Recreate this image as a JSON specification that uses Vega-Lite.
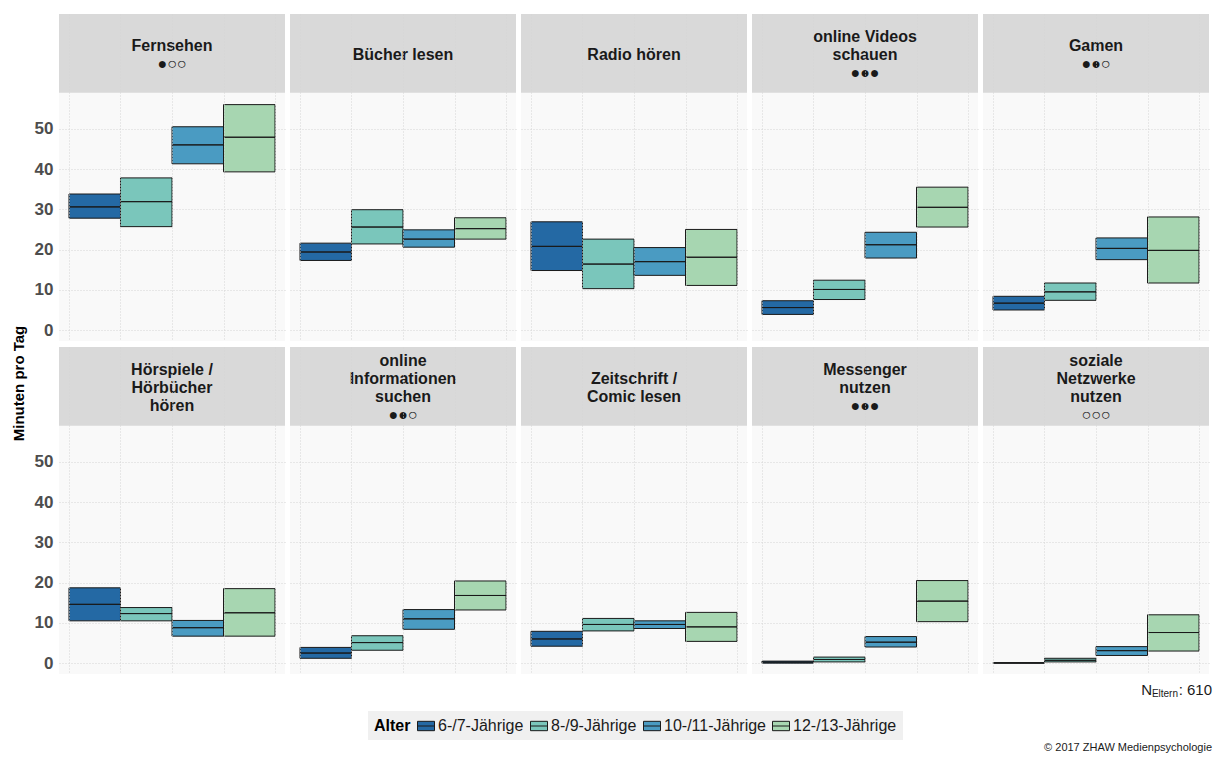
{
  "$schema": "https://vega.github.io/schema/vega-lite/v6.json",
  "padding": {"left": 12, "top": 14, "right": 4, "bottom": 0},
  "title": {"text": "Minuten pro Tag", "orient": "left", "anchor": "middle", "fontSize": 15, "fontWeight": "bold", "color": "#000000", "offset": 7},
  "datasets": {
    "nutzung": [
      {"Aktivitaet": "Fernsehen", "Bewertung": "●○○", "Alter": "6-/7-Jährige", "CI_unten": 27.8, "Mittelwert": 30.6, "CI_oben": 33.8},
      {"Aktivitaet": "Fernsehen", "Bewertung": "●○○", "Alter": "8-/9-Jährige", "CI_unten": 25.7, "Mittelwert": 31.9, "CI_oben": 37.8},
      {"Aktivitaet": "Fernsehen", "Bewertung": "●○○", "Alter": "10-/11-Jährige", "CI_unten": 41.3, "Mittelwert": 46.0, "CI_oben": 50.5},
      {"Aktivitaet": "Fernsehen", "Bewertung": "●○○", "Alter": "12-/13-Jährige", "CI_unten": 39.3, "Mittelwert": 47.9, "CI_oben": 56.0},
      {"Aktivitaet": "Bücher lesen", "Bewertung": "", "Alter": "6-/7-Jährige", "CI_unten": 17.3, "Mittelwert": 19.4, "CI_oben": 21.6},
      {"Aktivitaet": "Bücher lesen", "Bewertung": "", "Alter": "8-/9-Jährige", "CI_unten": 21.4, "Mittelwert": 25.6, "CI_oben": 29.9},
      {"Aktivitaet": "Bücher lesen", "Bewertung": "", "Alter": "10-/11-Jährige", "CI_unten": 20.6, "Mittelwert": 22.6, "CI_oben": 24.9},
      {"Aktivitaet": "Bücher lesen", "Bewertung": "", "Alter": "12-/13-Jährige", "CI_unten": 22.6, "Mittelwert": 25.2, "CI_oben": 27.9},
      {"Aktivitaet": "Radio hören", "Bewertung": "", "Alter": "6-/7-Jährige", "CI_unten": 14.8, "Mittelwert": 20.8, "CI_oben": 26.9},
      {"Aktivitaet": "Radio hören", "Bewertung": "", "Alter": "8-/9-Jährige", "CI_unten": 10.3, "Mittelwert": 16.4, "CI_oben": 22.6},
      {"Aktivitaet": "Radio hören", "Bewertung": "", "Alter": "10-/11-Jährige", "CI_unten": 13.6, "Mittelwert": 17.0, "CI_oben": 20.5},
      {"Aktivitaet": "Radio hören", "Bewertung": "", "Alter": "12-/13-Jährige", "CI_unten": 11.1, "Mittelwert": 18.1, "CI_oben": 25.0},
      {"Aktivitaet": "online Videos\nschauen", "Bewertung": "●●●", "Alter": "6-/7-Jährige", "CI_unten": 3.9, "Mittelwert": 5.6, "CI_oben": 7.3},
      {"Aktivitaet": "online Videos\nschauen", "Bewertung": "●●●", "Alter": "8-/9-Jährige", "CI_unten": 7.6, "Mittelwert": 10.1, "CI_oben": 12.4},
      {"Aktivitaet": "online Videos\nschauen", "Bewertung": "●●●", "Alter": "10-/11-Jährige", "CI_unten": 17.9, "Mittelwert": 21.2, "CI_oben": 24.3},
      {"Aktivitaet": "online Videos\nschauen", "Bewertung": "●●●", "Alter": "12-/13-Jährige", "CI_unten": 25.6, "Mittelwert": 30.5, "CI_oben": 35.5},
      {"Aktivitaet": "Gamen", "Bewertung": "●●○", "Alter": "6-/7-Jährige", "CI_unten": 5.0, "Mittelwert": 6.7, "CI_oben": 8.4},
      {"Aktivitaet": "Gamen", "Bewertung": "●●○", "Alter": "8-/9-Jährige", "CI_unten": 7.4, "Mittelwert": 9.5, "CI_oben": 11.7},
      {"Aktivitaet": "Gamen", "Bewertung": "●●○", "Alter": "10-/11-Jährige", "CI_unten": 17.5, "Mittelwert": 20.3, "CI_oben": 22.9},
      {"Aktivitaet": "Gamen", "Bewertung": "●●○", "Alter": "12-/13-Jährige", "CI_unten": 11.7, "Mittelwert": 19.8, "CI_oben": 28.1},
      {"Aktivitaet": "Hörspiele /\nHörbücher\nhören", "Bewertung": "", "Alter": "6-/7-Jährige", "CI_unten": 10.5, "Mittelwert": 14.6, "CI_oben": 18.7},
      {"Aktivitaet": "Hörspiele /\nHörbücher\nhören", "Bewertung": "", "Alter": "8-/9-Jährige", "CI_unten": 10.5, "Mittelwert": 12.3, "CI_oben": 13.8},
      {"Aktivitaet": "Hörspiele /\nHörbücher\nhören", "Bewertung": "", "Alter": "10-/11-Jährige", "CI_unten": 6.7, "Mittelwert": 8.8, "CI_oben": 10.6},
      {"Aktivitaet": "Hörspiele /\nHörbücher\nhören", "Bewertung": "", "Alter": "12-/13-Jährige", "CI_unten": 6.7, "Mittelwert": 12.5, "CI_oben": 18.5},
      {"Aktivitaet": "online\nInformationen\nsuchen", "Bewertung": "●●○", "Alter": "6-/7-Jährige", "CI_unten": 1.2, "Mittelwert": 2.5, "CI_oben": 3.9},
      {"Aktivitaet": "online\nInformationen\nsuchen", "Bewertung": "●●○", "Alter": "8-/9-Jährige", "CI_unten": 3.2, "Mittelwert": 5.1, "CI_oben": 6.8},
      {"Aktivitaet": "online\nInformationen\nsuchen", "Bewertung": "●●○", "Alter": "10-/11-Jährige", "CI_unten": 8.4, "Mittelwert": 11.0, "CI_oben": 13.3},
      {"Aktivitaet": "online\nInformationen\nsuchen", "Bewertung": "●●○", "Alter": "12-/13-Jährige", "CI_unten": 13.2, "Mittelwert": 16.8, "CI_oben": 20.4},
      {"Aktivitaet": "Zeitschrift /\nComic lesen", "Bewertung": "", "Alter": "6-/7-Jährige", "CI_unten": 4.2, "Mittelwert": 6.0, "CI_oben": 7.9},
      {"Aktivitaet": "Zeitschrift /\nComic lesen", "Bewertung": "", "Alter": "8-/9-Jährige", "CI_unten": 8.0, "Mittelwert": 9.6, "CI_oben": 11.1},
      {"Aktivitaet": "Zeitschrift /\nComic lesen", "Bewertung": "", "Alter": "10-/11-Jährige", "CI_unten": 8.6, "Mittelwert": 9.6, "CI_oben": 10.5},
      {"Aktivitaet": "Zeitschrift /\nComic lesen", "Bewertung": "", "Alter": "12-/13-Jährige", "CI_unten": 5.4, "Mittelwert": 9.0, "CI_oben": 12.6},
      {"Aktivitaet": "Messenger\nnutzen", "Bewertung": "●●●", "Alter": "6-/7-Jährige", "CI_unten": 0.0, "Mittelwert": 0.25, "CI_oben": 0.5},
      {"Aktivitaet": "Messenger\nnutzen", "Bewertung": "●●●", "Alter": "8-/9-Jährige", "CI_unten": 0.3, "Mittelwert": 0.9, "CI_oben": 1.5},
      {"Aktivitaet": "Messenger\nnutzen", "Bewertung": "●●●", "Alter": "10-/11-Jährige", "CI_unten": 4.0, "Mittelwert": 5.2, "CI_oben": 6.6},
      {"Aktivitaet": "Messenger\nnutzen", "Bewertung": "●●●", "Alter": "12-/13-Jährige", "CI_unten": 10.3, "Mittelwert": 15.4, "CI_oben": 20.5},
      {"Aktivitaet": "soziale\nNetzwerke\nnutzen", "Bewertung": "○○○", "Alter": "6-/7-Jährige", "CI_unten": 0.0, "Mittelwert": 0.05, "CI_oben": 0.1},
      {"Aktivitaet": "soziale\nNetzwerke\nnutzen", "Bewertung": "○○○", "Alter": "8-/9-Jährige", "CI_unten": 0.3, "Mittelwert": 0.7, "CI_oben": 1.2},
      {"Aktivitaet": "soziale\nNetzwerke\nnutzen", "Bewertung": "○○○", "Alter": "10-/11-Jährige", "CI_unten": 1.9, "Mittelwert": 3.1, "CI_oben": 4.1},
      {"Aktivitaet": "soziale\nNetzwerke\nnutzen", "Bewertung": "○○○", "Alter": "12-/13-Jährige", "CI_unten": 3.0, "Mittelwert": 7.6, "CI_oben": 12.0}
    ],
    "stichprobe": [{"Gruppe": "Eltern", "N": 610}]
  },
  "data": {"name": "nutzung"},
  "spacing": 4,
  "resolve": {"legend": {"color": "independent"}},
  "vconcat": [
    {
      "facet": {
        "field": "Aktivitaet", "type": "nominal",
        "sort": ["Fernsehen", "Bücher lesen", "Radio hören", "online Videos\nschauen", "Gamen", "Hörspiele /\nHörbücher\nhören", "online\nInformationen\nsuchen", "Zeitschrift /\nComic lesen", "Messenger\nnutzen", "soziale\nNetzwerke\nnutzen"],
        "header": {"title": null, "labels": false, "labelPadding": 0, "labelFontSize": 0, "labelExpr": "''"}
      },
      "columns": 5,
      "spacing": {"row": 6, "column": 5},
      "spec": {
        "width": 226,
        "height": 327,
        "layer": [
          {
            "mark": {"type": "rect", "stroke": "#1a1a1a", "strokeWidth": 1},
            "encoding": {
              "x": {"field": "Alter", "type": "nominal", "sort": ["6-/7-Jährige", "8-/9-Jährige", "10-/11-Jährige", "12-/13-Jährige"],
                "scale": {"paddingInner": 0, "paddingOuter": 0.194},
                "axis": {"title": null, "labels": false, "ticks": false, "domain": false, "grid": true, "tickBand": "extent", "gridDash": [1, 2], "gridColor": "#d4d4d4"}},
              "y": {"field": "CI_unten", "type": "quantitative",
                "scale": {"domain": [-2.7, 78.5], "nice": false, "zero": false},
                "axis": {"title": null, "values": [0, 10, 20, 30, 40, 50], "ticks": false, "domain": false, "grid": true, "gridDash": [1, 2], "gridColor": "#d4d4d4", "labelFontSize": 17, "labelFontWeight": "bold", "labelColor": "#4d4d4d", "labelPadding": 6}},
              "y2": {"field": "CI_oben"},
              "color": {"field": "Alter", "type": "nominal", "sort": ["6-/7-Jährige", "8-/9-Jährige", "10-/11-Jährige", "12-/13-Jährige"],
                "scale": {"domain": ["6-/7-Jährige", "8-/9-Jährige", "10-/11-Jährige", "12-/13-Jährige"], "range": ["#2469a4", "#7ac6bb", "#4a9bc2", "#a7d6b1"]},
                "legend": null}
            }
          },
          {
            "mark": {"type": "rect", "fill": "transparent", "stroke": "#1a1a1a", "strokeWidth": 1},
            "encoding": {
              "x": {"field": "Alter", "type": "nominal", "sort": ["6-/7-Jährige", "8-/9-Jährige", "10-/11-Jährige", "12-/13-Jährige"]},
              "y": {"field": "Mittelwert", "type": "quantitative"},
              "y2": {"field": "Mittelwert"}
            }
          },
          {
            "transform": [{"filter": "datum.Alter == '6-/7-Jährige'"}],
            "mark": {"type": "rect", "color": "#d9d9d9"},
            "encoding": {
              "y": {"datum": 58.95, "type": "quantitative"},
              "y2": {"datum": 78.5}
            }
          },
          {
            "transform": [{"filter": "datum.Alter == '6-/7-Jährige'"}],
            "mark": {"type": "text", "lineBreak": "\n", "lineHeight": 18, "fontSize": 16, "fontWeight": "bold", "color": "#1a1a1a", "baseline": "middle", "align": "center",
              "text": {"expr": "datum.Aktivitaet + (datum.Bewertung ? '\\n' + datum.Bewertung : '')"},
              "dy": {"expr": "-9 * (length(split(datum.Aktivitaet, '\\n')) - (datum.Bewertung ? 0 : 1)) + 2"}},
            "encoding": {
              "y": {"datum": 68.7, "type": "quantitative"}
            }
          }
        ]
      }
    },
    {
      "width": 1153,
      "height": 24,
      "view": {"fill": null, "stroke": null},
      "title": {"text": "© 2017 ZHAW Medienpsychologie", "orient": "bottom", "anchor": "end", "fontSize": 11, "fontWeight": "normal", "color": "#1a1a1a", "offset": 2},
      "layer": [
        {
          "mark": {"type": "rect", "opacity": 0},
          "encoding": {
            "color": {"field": "Alter", "type": "nominal", "sort": ["6-/7-Jährige", "8-/9-Jährige", "10-/11-Jährige", "12-/13-Jährige"],
              "legend": {"orient": "bottom", "direction": "horizontal", "title": "Alter", "titleOrient": "left", "titleFontSize": 16, "titleFontWeight": "bold", "titleColor": "#000000", "titlePadding": 6,
                "labelFontSize": 16, "labelColor": "#1a1a1a", "labelOffset": 3, "columnPadding": 4, "fillColor": "#f0f0f0", "padding": 6, "offset": 9,
                "symbolType": "M-1,-0.55H1V0.55H-1Z M-1,0H1", "symbolSize": 289, "symbolStrokeColor": "#1a1a1a", "symbolStrokeWidth": 1, "symbolOpacity": 1,
                "encode": {"symbols": {"update": {"opacity": {"value": 1}}}}}}
          }
        },
        {
          "data": {"name": "stichprobe"},
          "mark": {"type": "text", "align": "right", "baseline": "middle", "fontSize": 15, "color": "#1a1a1a", "text": {"expr": "': ' + datum.N"}},
          "encoding": {"x": {"datum": 1, "type": "quantitative", "scale": {"domain": [0, 1], "nice": false}, "axis": null}}
        },
        {
          "data": {"name": "stichprobe"},
          "mark": {"type": "text", "align": "right", "baseline": "middle", "fontSize": 10, "color": "#1a1a1a", "dx": -34, "dy": 4},
          "encoding": {"x": {"datum": 1, "type": "quantitative"}, "text": {"field": "Gruppe"}}
        },
        {
          "data": {"name": "stichprobe"},
          "mark": {"type": "text", "align": "right", "baseline": "middle", "fontSize": 15, "color": "#1a1a1a", "dx": -60, "text": "N"},
          "encoding": {"x": {"datum": 1, "type": "quantitative"}}
        }
      ]
    }
  ],
  "config": {
    "font": "Liberation Sans",
    "view": {"fill": "#f9f9f9", "stroke": null},
    "header": {"labels": false, "title": null},
    "headerFacet": {"labels": false, "title": null},
    "legend": {"layout": {"bottom": {"anchor": "middle"}}}
  }
}
